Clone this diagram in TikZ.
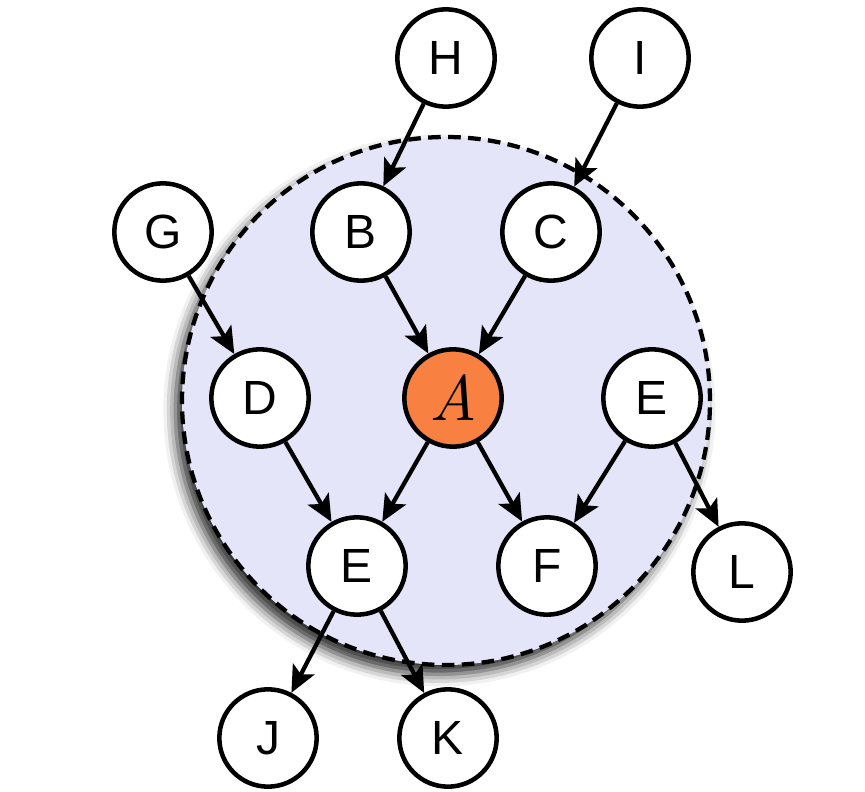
\documentclass[tikz,border=0pt]{standalone}
\usepackage{fontspec}
\setmainfont{Liberation Sans}
\newfontfamily\lmfont{lmroman10}[Extension=.otf,UprightFont=*-regular,ItalicFont=*-italic]
\usetikzlibrary{arrows.meta,shadows.blur}
\definecolor{lav}{RGB}{229,229,250}
\definecolor{orng}{RGB}{248,128,64}
\begin{document}
\begin{tikzpicture}[x=0.75pt,y=-0.75pt,
  vnode/.style={circle,draw=black,line width=3.4pt,fill=white,inner sep=0pt,minimum size=73pt,font=\fontsize{36}{40}\selectfont},
  conn/.style={line width=3.2pt,-{Stealth[length=20pt,width=18pt,inset=4.5pt]}},
  ]
\useasboundingbox (0,0) rectangle (865,792);
\node[circle,draw=black,line width=3.2pt,dash pattern=on 9.5pt off 5.5pt,fill=lav,minimum size=396pt,inner sep=0pt,
  blur shadow={shadow xshift=-5pt,shadow yshift=-7pt,shadow blur radius=9pt,shadow opacity=85}] (ring) at (446,401) {};
\node[vnode] (H) at (446,58) {H};
\node[vnode] (I) at (640,58) {I};
\node[vnode] (G) at (163,232) {G};
\node[vnode] (B) at (361,232) {B};
\node[vnode] (C) at (551,232) {C};
\node[vnode] (D) at (260,398) {D};
\node[vnode,fill=orng,font=\fontsize{48}{52}\lmfont\itshape] (A) at (453,398) {A};
\node[vnode] (E1) at (652,398) {E};
\node[vnode] (E2) at (357,566) {E};
\node[vnode] (F) at (547,566) {F};
\node[vnode] (L) at (742,572) {L};
\node[vnode] (J) at (268,738) {J};
\node[vnode] (K) at (448,738) {K};
\draw[conn] (H) -- (B);
\draw[conn] (I) -- (C);
\draw[conn] (G) -- (D);
\draw[conn] (B) -- (A);
\draw[conn] (C) -- (A);
\draw[conn] (D) -- (E2);
\draw[conn] (A) -- (E2);
\draw[conn] (A) -- (F);
\draw[conn] (E1) -- (F);
\draw[conn] (E1) -- (L);
\draw[conn] (E2) -- (J);
\draw[conn] (E2) -- (K);
\end{tikzpicture}
\end{document}
